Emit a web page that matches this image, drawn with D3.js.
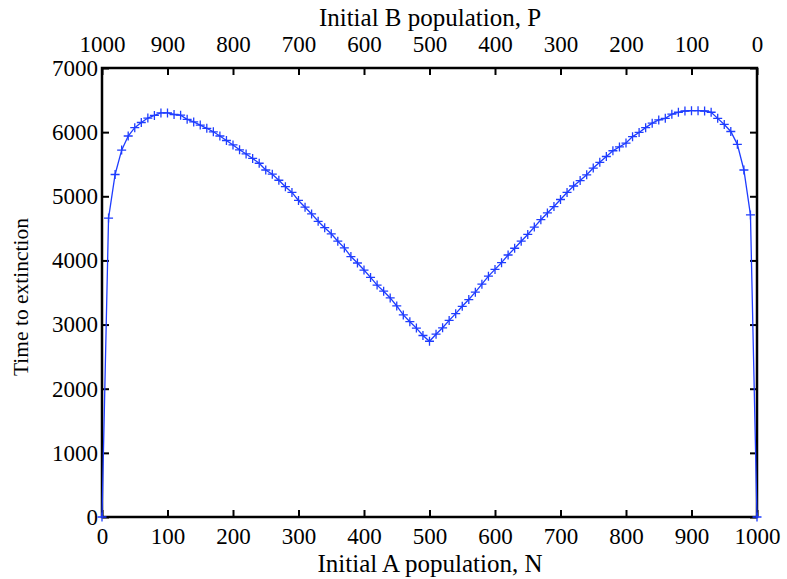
<!DOCTYPE html>
<html>
<head>
<meta charset="utf-8">
<script src="https://cdn.jsdelivr.net/npm/d3@7"></script>
<style>
body { margin: 0; background: #fff; }
svg text { font-family: "Liberation Serif", "Times New Roman", serif; fill: #000; }
</style>
</head>
<body>
<svg id="chart" width="787" height="579"></svg>
<script>
const populationN = [0,10,20,30,40,50,60,70,80,90,100,110,120,130,140,150,160,170,180,190,200,210,220,230,240,250,260,270,280,290,300,310,320,330,340,350,360,370,380,390,400,410,420,430,440,450,460,470,480,490,500,510,520,530,540,550,560,570,580,590,600,610,620,630,640,650,660,670,680,690,700,710,720,730,740,750,760,770,780,790,800,810,820,830,840,850,860,870,880,890,900,910,920,930,940,950,960,970,980,990,1000];
const extinctionTime = [0,4660,5340,5720,5940,6070,6150,6220,6260,6300,6300,6275,6265,6200,6160,6110,6060,6005,5940,5870,5800,5725,5660,5590,5515,5410,5345,5250,5150,5060,4935,4830,4725,4610,4510,4415,4300,4195,4060,3960,3850,3735,3615,3520,3415,3290,3150,3045,2945,2830,2740,2850,2950,3065,3170,3285,3390,3505,3630,3755,3860,3965,4085,4190,4300,4405,4520,4635,4740,4840,4950,5060,5160,5245,5335,5440,5530,5620,5710,5770,5830,5930,5995,6070,6140,6190,6215,6280,6310,6330,6335,6335,6330,6310,6215,6120,6010,5810,5410,4710,0];
const xTicks = [0,100,200,300,400,500,600,700,800,900,1000];
const topTicks = [1000,900,800,700,600,500,400,300,200,100,0];
const yTicks = [0,1000,2000,3000,4000,5000,6000,7000];

const svg = d3.select("#chart");
const L = 102, R = 757, T = 68, B = 517;
const x = d3.scaleLinear().domain([0, 1000]).range([L, R]);
const xTop = d3.scaleLinear().domain([1000, 0]).range([L, R]);
const y = d3.scaleLinear().domain([0, 7000]).range([B, T]);
const fs = 23, tl = 7;

const gB = svg.append("g").attr("transform", `translate(0,${B})`)
  .call(d3.axisBottom(x).tickValues(xTicks).tickSize(-tl).tickPadding(11).tickFormat(d3.format("d")));
const gT = svg.append("g").attr("transform", `translate(0,${T})`)
  .call(d3.axisTop(xTop).tickValues(topTicks).tickSize(-tl).tickPadding(16).tickFormat(d3.format("d")));
const gL = svg.append("g").attr("transform", `translate(${L},0)`)
  .call(d3.axisLeft(y).tickValues(yTicks).tickSize(-tl).tickPadding(4).tickFormat(d3.format("d")));
const gR = svg.append("g").attr("transform", `translate(${R},0)`)
  .call(d3.axisRight(y).tickValues(yTicks).tickSize(-tl).tickFormat(""));
[gB, gT, gL, gR].forEach(g => {
  g.select(".domain").remove();
  g.selectAll(".tick line").attr("stroke", "#000").attr("stroke-width", 2);
  g.selectAll("text").style("font-size", fs + "px").style("font-family", "Liberation Serif");
});

svg.append("rect").attr("x", L).attr("y", T).attr("width", R - L).attr("height", B - T)
  .attr("fill", "none").attr("stroke", "#000").attr("stroke-width", 2.5);

const data = populationN.map((n, i) => ({ n, t: extinctionTime[i] }));
const col = "#1f3dff";
svg.append("path").datum(data)
  .attr("fill", "none").attr("stroke", col).attr("stroke-width", 1.3)
  .attr("d", d3.line().x(d => x(d.n)).y(d => y(d.t)));
const s = 4.5;
svg.append("g").selectAll("path.pt").data(data).join("path")
  .attr("class", "pt")
  .attr("d", d => `M${x(d.n) - s},${y(d.t)}H${x(d.n) + s}M${x(d.n)},${y(d.t) - s}V${y(d.t) + s}`)
  .attr("stroke", col).attr("stroke-width", 1.3).attr("fill", "none");

svg.append("text").attr("x", 430).attr("y", 26).attr("text-anchor", "middle")
  .style("font-size", "25px").text("Initial B population, P");
svg.append("text").attr("x", 430).attr("y", 572).attr("text-anchor", "middle")
  .style("font-size", "25px").text("Initial A population, N");
svg.append("text").attr("transform", `translate(28,297) rotate(-90)`).attr("text-anchor", "middle")
  .style("font-size", "21.5px").text("Time to extinction");
</script>
</body>
</html>
